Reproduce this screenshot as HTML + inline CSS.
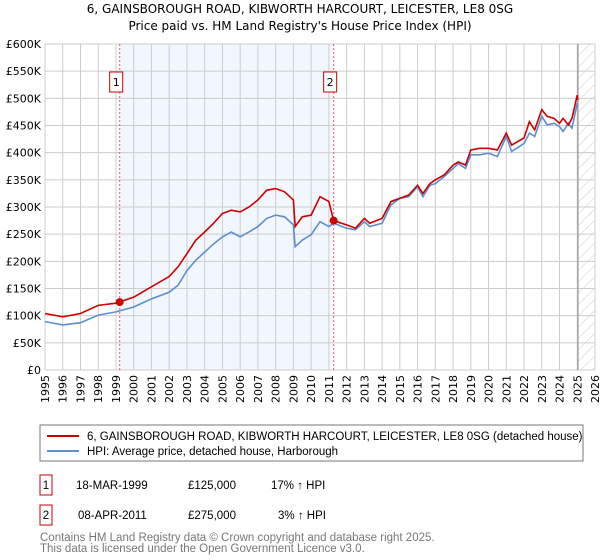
<!DOCTYPE html>
<html><head><meta charset="utf-8"><style>
body{margin:0;background:#fff;font-family:"Liberation Sans","DejaVu Sans",sans-serif;}
#wrap{position:relative;width:600px;height:560px;overflow:hidden;}
svg text{font-family:"DejaVu Sans","Liberation Sans",sans-serif;}
svg text.lib{font-family:"Liberation Sans","DejaVu Sans",sans-serif;}
</style></head><body><div id="wrap">
<svg id="chart" width="600" height="560">
<defs><pattern id="hatch" patternUnits="userSpaceOnUse" width="8" height="8" patternTransform="rotate(45)"><line x1="0" y1="0" x2="0" y2="8" stroke="#ccc" stroke-width="1"/></pattern></defs>
<text x="300" y="13" text-anchor="middle" font-size="12" fill="#000">6, GAINSBOROUGH ROAD, KIBWORTH HARCOURT, LEICESTER, LE8 0SG</text>
<text x="300" y="30" text-anchor="middle" font-size="12" fill="#000">Price paid vs. HM Land Registry's House Price Index (HPI)</text>
<g id="grid"></g><g id="marks"></g><g id="axes"></g>
<rect x="40" y="425" width="543" height="36" fill="none" stroke="#777"/>
<line x1="47" y1="436" x2="79" y2="436" stroke="#cc0000" stroke-width="2"/>
<text class="lib" x="87" y="440" font-size="11.5">6, GAINSBOROUGH ROAD, KIBWORTH HARCOURT, LEICESTER, LE8 0SG (detached house)</text>
<line x1="47" y1="451" x2="79" y2="451" stroke="#5b8fd0" stroke-width="2"/>
<text class="lib" x="87" y="455" font-size="11.5">HPI: Average price, detached house, Harborough</text>
<rect x="40" y="475" width="12" height="20" fill="none" stroke="#cc0000"/>
<text class="lib" x="46" y="489" font-size="11.5" text-anchor="middle">1</text>
<text class="lib" x="76" y="489" font-size="11.5">18-MAR-1999</text>
<text class="lib" x="188" y="489" font-size="11.5">£125,000</text>
<text class="lib" x="271" y="489" font-size="11.5">17% ↑ HPI</text>
<rect x="40" y="505" width="12" height="20" fill="none" stroke="#cc0000"/>
<text class="lib" x="46" y="519" font-size="11.5" text-anchor="middle">2</text>
<text class="lib" x="78" y="519" font-size="11.5">08-APR-2011</text>
<text class="lib" x="188" y="519" font-size="11.5">£275,000</text>
<text class="lib" x="278" y="519" font-size="11.5">3% ↑ HPI</text>
<text class="lib" x="40" y="541" font-size="11.5" fill="#777">Contains HM Land Registry data © Crown copyright and database right 2025.</text>
<text class="lib" x="40" y="552" font-size="11.5" fill="#777">This data is licensed under the Open Government Licence v3.0.</text>
</svg></div>
<script>
const years=[1995,1996,1997,1998,1999,2000,2001,2002,2002.5,2003,2003.5,2004,2004.5,2005,2005.5,2006,2006.5,2007,2007.5,2008,2008.5,2009,2009.1,2009.5,2010,2010.5,2011,2011.27,2012,2012.5,2013,2013.3,2014,2014.5,2015,2015.5,2016,2016.3,2016.7,2017,2017.5,2018,2018.3,2018.7,2019,2019.5,2020,2020.5,2021,2021.3,2022,2022.3,2022.6,2023,2023.3,2023.7,2024,2024.2,2024.5,2024.7,2025,2025.03];
const hpi=[89,83,87,101,107,116,131,143,156,183,202,217,232,245,254,245,254,264,279,285,282,267,227,239,249,273,264,270,261,258,273,264,270,304,316,319,337,319,340,343,356,371,380,371,396,396,399,393,430,402,417,436,430,467,451,454,448,439,454,445,491,485];
const price=[104,98,104,119,123,134,153,172,190,214,239,254,270,288,294,291,300,313,331,334,328,313,264,282,285,319,310,275,267,261,279,270,279,310,316,322,340,325,343,350,359,377,383,377,405,408,408,405,436,414,427,457,442,479,467,463,454,463,451,463,506,497];
const xTicks=[1995,1996,1997,1998,1999,2000,2001,2002,2003,2004,2005,2006,2007,2008,2009,2010,2011,2012,2013,2014,2015,2016,2017,2018,2019,2020,2021,2022,2023,2024,2025,2026];
const yTicks=[0,50,100,150,200,250,300,350,400,450,500,550,600];
const yLabels=["£0","£50K","£100K","£150K","£200K","£250K","£300K","£350K","£400K","£450K","£500K","£550K","£600K"];
const sales=[{n:"1",t:1999.21,v:125},{n:"2",t:2011.27,v:275}];
const X0=45,X1=595,Y0=370,Y1=44;
const sx=t=>X0+(t-1995)/(2026-1995)*(X1-X0);
const sy=v=>Y0-v/600*(Y0-Y1);
const NS="http://www.w3.org/2000/svg";
function mk(tag,attrs,parent){const e=document.createElementNS(NS,tag);for(const k in attrs)e.setAttribute(k,attrs[k]);document.getElementById(parent).appendChild(e);return e;}
let r=mk("rect",{x:sx(sales[0].t),y:Y1,width:sx(sales[1].t)-sx(sales[0].t),height:Y0-Y1,fill:"#eef3fc",opacity:"0.75"},"grid");


let h=mk("rect",{x:sx(2025.04),y:Y1,width:X1-sx(2025.04),height:Y0-Y1,fill:"url(#hatch)"},"grid");


xTicks.forEach(t=>{const l=mk("line",{x1:sx(t),x2:sx(t),y1:Y1,y2:Y0,stroke:"#ccc"},"grid");


const tx=mk("text",{x:0,y:0,"font-size":"11",transform:`translate(${sx(t)+4},${Y0+5}) rotate(-90)`,"text-anchor":"end"},"axes");tx.textContent=t;

});
yTicks.forEach((v,i)=>{const l=mk("line",{x1:X0,x2:X1,y1:sy(v),y2:sy(v),stroke:"#ccc"},"grid");


const tx=mk("text",{x:X0-4,y:sy(v)+4,"font-size":"11","text-anchor":"end"},"axes");tx.textContent=yLabels[i];

});
let nl=mk("line",{x1:sx(2025.04),x2:sx(2025.04),y1:Y1,y2:Y0,stroke:"#888"},"grid");


let hp=mk("polyline",{points:years.map((t,i)=>sx(t)+","+sy(hpi[i])).join(" "),fill:"none",stroke:"#5b8fd0","stroke-width":"1.6"},"marks");


let pp=mk("polyline",{points:years.map((t,i)=>sx(t)+","+sy(price[i])).join(" "),fill:"none",stroke:"#cc0000","stroke-width":"1.6"},"marks");


sales.forEach(s=>{const l=mk("line",{x1:sx(s.t),x2:sx(s.t),y1:Y1,y2:Y0,stroke:"#e06060","stroke-dasharray":"2,2"},"marks");


const c=mk("circle",{cx:sx(s.t),cy:sy(s.v),r:4,fill:"#cc0000"},"marks");


const b=mk("rect",{x:sx(s.t)-10,y:72,width:13,height:20,fill:"#fff",stroke:"#cc0000"},"marks");


const tx=mk("text",{x:sx(s.t)-3.5,y:86,"font-size":"11","text-anchor":"middle"},"marks");tx.textContent=s.n;

});
</script></body></html>
